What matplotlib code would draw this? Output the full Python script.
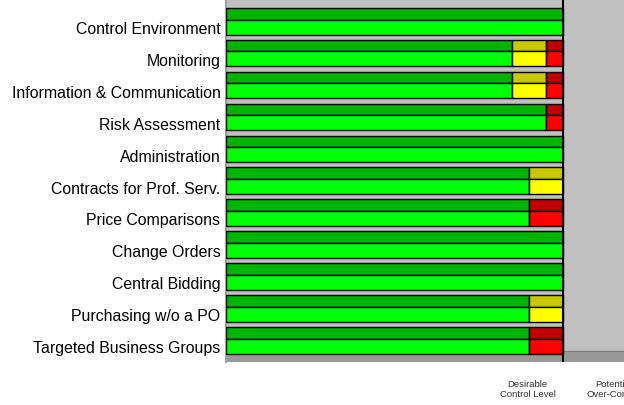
import matplotlib.pyplot as plt
import numpy as np

categories = ["Control Environment", "Monitoring", "Information & Communication",
              "Risk Assessment", "Administration", "Contracts for Prof. Serv.",
              "Price Comparisons", "Change Orders", "Central Bidding",
              "Purchasing w/o a PO", "Targeted Business Groups"]
green = [100, 85, 85, 95, 100, 90, 90, 100, 100, 90, 90]
yellow = [0, 10, 10, 0, 0, 10, 0, 0, 0, 10, 0]
red = [0, 5, 5, 5, 0, 0, 10, 0, 0, 0, 10]
xlabels = ["Desirable\nControl Level", "Potential\nOver-Control"]
xlabel_pos = [89.5, 115]

plt.rcParams['font.family'] = ['Liberation Sans', 'DejaVu Sans']

fig = plt.figure(figsize=(6.24, 4.06), dpi=100)
ax = fig.add_axes([226 / 624, 43 / 406, 438 / 624, 363 / 406])
ax.set_facecolor('#c0c0c0')

y = np.arange(len(categories))
top_y = y + 0.282
top_h = 0.361
front_y = y + 0.643
front_h = 0.47

g = np.array(green)
yl = np.array(yellow)
r = np.array(red)

# "3D" look: darker top face + brighter front face
faces = [(top_y, top_h, ['#00b400', '#c8c800', '#c00000']),
         (front_y, front_h, ['#00ff00', '#ffff00', '#ff0000'])]
for ypos, h, cols in faces:
    for vals, left, c in [(g, 0, cols[0]), (yl, g, cols[1]), (r, g + yl, cols[2])]:
        m = vals > 0
        ax.barh(ypos[m], vals[m], left=np.broadcast_to(left, g.shape)[m], height=h,
                align='edge', color=c, edgecolor='black', linewidth=1, zorder=3)

# floor
ax.axhspan(352 / 31.9, 363 / 31.9, color='#999999', zorder=2)
ax.axhline(352 / 31.9, color='#808080', lw=0.8, zorder=2)
ax.axvline(100, color='black', lw=1.5, zorder=4)

ax.set_xlim(0, 130)
ax.set_ylim(363 / 31.9, 0)
ax.set_yticks(y + 0.878)
ax.set_yticklabels(categories, fontsize=11.4)
ax.set_xticks(xlabel_pos)
ax.set_xticklabels(xlabels, fontsize=6.8, color='#333333')
ax.tick_params(axis='x', length=0, pad=12)
ax.tick_params(axis='y', length=0, pad=4)
for s in ['top', 'right', 'bottom']:
    ax.spines[s].set_visible(False)
ax.spines['left'].set_color('#a0a0a0')
ax.spines['left'].set_linewidth(1.5)

fig.savefig('out.png', dpi=100)
